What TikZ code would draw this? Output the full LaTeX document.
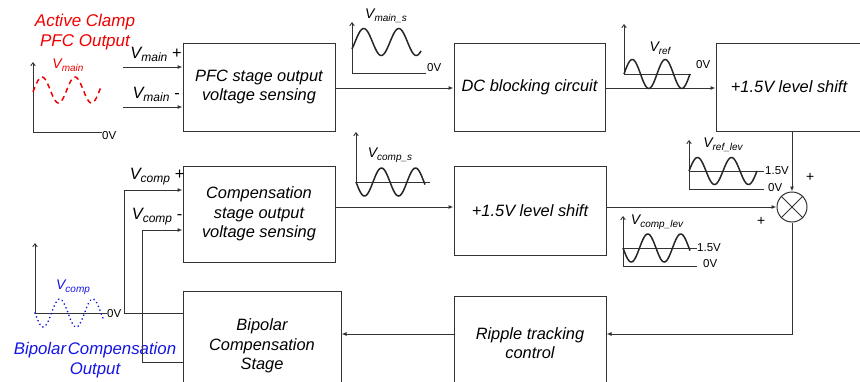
\documentclass[tikz,border=0pt]{standalone}
\usepackage{fontspec}
\setmainfont{Liberation Sans}
\usetikzlibrary{arrows.meta,calc}
\definecolor{ln}{gray}{0.2}
\definecolor{myred}{RGB}{240,0,0}
\definecolor{myblue}{RGB}{20,20,230}
\newcommand\vs[2]{#1\raisebox{-0.35ex}{\fontsize{10}{10}\selectfont #2}}
\newcommand\vb[2]{#1\raisebox{-0.35ex}{\fontsize{12}{12}\selectfont #2}}
\begin{document}
\begin{tikzpicture}[x=1pt,y=-1pt,
  blk/.style={draw=ln, line width=1pt, inner sep=0pt, align=center,
    font=\fontsize{16.4}{19.5}\selectfont\itshape},
  wire/.style={draw=ln, line width=1pt},
  arr/.style={wire, -{Latex[length=5pt,width=4pt]}},
  axis/.style={draw=ln, line width=0.9pt, -{Straight Barb[length=3pt,width=4.5pt]}},
  wave/.style={line width=1.5pt, black!85},
  lvl/.style={font=\fontsize{11.5}{12}\selectfont, anchor=west, inner sep=0pt},
  wlbl/.style={font=\fontsize{14}{14}\selectfont\itshape, inner sep=0pt},
  inlbl/.style={font=\fontsize{16.4}{18}\selectfont\itshape, inner sep=0pt},
  plus/.style={font=\fontsize{14}{14}\selectfont\itshape, inner sep=0pt}]
\useasboundingbox (0,0) rectangle (860,381);

% ---------- blocks ----------
\node[blk, minimum width=152pt, minimum height=88pt] (pfc) at (259,87) {PFC stage output\\voltage sensing};
\node[blk, minimum width=151pt, minimum height=88pt] (dc) at (529.5,87) {DC blocking circuit};
\node[blk, minimum width=146pt, minimum height=88pt] (ls1) at (789,87) {+1.5V level shift};
\node[blk, minimum width=152pt, minimum height=96pt] (comp) at (259,214) {Compensation\\stage output\\voltage sensing};
\node[blk, minimum width=152pt, minimum height=89pt] (ls2) at (530,210.5) {+1.5V level shift};
\node[blk, minimum width=152pt, minimum height=94pt] (rip) at (530,343) {Ripple tracking\\control};
\node[blk, minimum width=158pt, minimum height=110pt] (bip) at (262,346) {Bipolar\\Compensation\\Stage};
\node[draw=ln, line width=1pt, circle, minimum size=30pt, inner sep=0pt] (sum) at (792,207) {};
\draw[wire] (sum.north west) -- (sum.south east);
\draw[wire] (sum.north east) -- (sum.south west);

% ---------- texts ----------
\node[myred, align=center, font=\fontsize{17}{20}\selectfont\itshape, inner sep=0pt] (acl) at (85,32) {Active Clamp\\PFC Output};
\node[myblue, align=center, font=\fontsize{16.8}{20}\selectfont\itshape, inner sep=0pt] (bco) at (95,360) {Bipolar\hspace{0.1em}Compensation\\Output};
\node[inlbl] (lvmp) at (156,54) {\vb{V}{main} +};
\node[inlbl] (lvmm) at (156,94) {\vb{V}{main} -};
\node[inlbl] (lvcp) at (157,177) {\vb{V}{comp} +};
\node[inlbl] (lvcm) at (157,217) {\vb{V}{comp} -};
\node[plus] (p1) at (810,177) {+};
\node[plus] (p2) at (761,221) {+};

% ---------- connectors ----------
\coordinate (vmp) at (123,67);
\coordinate (vmm) at (123,107);
\draw[arr] (vmp) -- (vmp -| pfc.west);
\draw[arr] (vmm) -- (vmm -| pfc.west);
\coordinate (m1) at (0,88);
\draw[arr] (pfc.east |- m1) -- (dc.west |- m1);
\draw[arr] (dc.east |- m1) -- (ls1.west |- m1);
\draw[arr] (sum |- ls1.south) -- (sum.north);
\coordinate (m2) at (0,207);
\draw[arr] (comp.east |- m2) -- (ls2.west |- m2);
\draw[arr] (ls2.east |- sum) -- (sum.west);
\coordinate (rt) at (0,334);
\draw[arr] (sum.south) |- (rip.east |- rt);
\draw[arr] (rip.west |- rt) -- (bip.east |- rt);
\coordinate (zv) at (124,313);
\coordinate (cp) at (124,190);
\draw[arr] (zv -| bip.west) -- (zv) -- (cp) -- (cp -| comp.west);
\coordinate (cmb) at (142,362);
\coordinate (cm) at (142,230);
\draw[arr] (cmb -| bip.west) -- (cmb) -- (cm) -- (cm -| comp.west);

% ---------- waveform: v_main (red dashed) ----------
\draw[axis] (102,132) -- (33,132) -- (33,62);
\draw[myred, line width=1.5pt, dash pattern=on 5pt off 4pt] plot[domain=33:101, samples=100, smooth] (\x,{90-13*sin(((\x-33.75)/33)*360)});
\node[lvl] (z1) at (102,136) {0V};
\node[wlbl, myred] (w1) at (68,65) {\vs{V}{main}};

% ---------- waveform: v_main_s ----------
\draw[axis] (426,73) -- (352,73) -- (352,22);
\draw[wave] plot[domain=352:421, samples=100, smooth] (\x,{42-13.5*sin(((\x-355)/35)*360)});
\node[lvl] (z2) at (427,68) {0V};
\node[wlbl] (w2) at (386,16) {\vs{V}{main\_s}};

% ---------- waveform: v_ref ----------
\draw[axis] (691,74) -- (624,74) -- (624,24);
\draw[wave] plot[domain=624:690, samples=100, smooth] (\x,{74-14.5*sin(((\x-624)/33)*360)});
\node[lvl] (z3) at (696,65) {0V};
\node[wlbl] (w3) at (660,48) {\vs{V}{ref}};

% ---------- waveform: v_ref_lev ----------
\draw[axis] (764,189) -- (689,189) -- (689,140);
\draw[draw=ln, line width=0.9pt] (689,171) -- (764,171);
\draw[wave] plot[domain=689:757, samples=100, smooth] (\x,{171-13.5*sin(((\x-689)/34)*360)});
\node[lvl] (h4) at (765,171) {1.5V};
\node[lvl] (z4) at (768,188) {0V};
\node[wlbl] (w4) at (723,145) {\vs{V}{ref\_lev}};

% ---------- waveform: v_comp_s ----------
\draw[axis] (430,182) -- (356,182) -- (356,132);
\draw[wave] plot[domain=356:425, samples=100, smooth] (\x,{182+14*sin(((\x-356)/34)*360)});
\node[wlbl] (w5) at (390,155) {\vs{V}{comp\_s}};

% ---------- waveform: v_comp_lev ----------
\draw[axis] (697,266) -- (623,266) -- (623,216);
\draw[draw=ln, line width=0.9pt] (623,248) -- (697,248);
\draw[wave] plot[domain=623:690, samples=100, smooth] (\x,{248+14*sin(((\x-623)/33)*360)});
\node[lvl] (h6) at (697,248) {1.5V};
\node[lvl] (z6) at (703,264) {0V};
\node[wlbl] (w6) at (657,222) {\vs{V}{comp\_lev}};

% ---------- waveform: v_comp (blue dotted) ----------
\draw[axis] (107,313) -- (35,313) -- (35,243);
\draw[myblue, line width=1.8pt, line cap=round, dash pattern=on 0.1pt off 4pt] plot[domain=35:103, samples=100, smooth] (\x,{313+14*sin(((\x-35)/33)*360)});
\node[lvl] (z7) at (107,314) {0V};
\node[wlbl, myblue] (w7) at (73,287) {\vs{V}{comp}};
\end{tikzpicture}
\end{document}
